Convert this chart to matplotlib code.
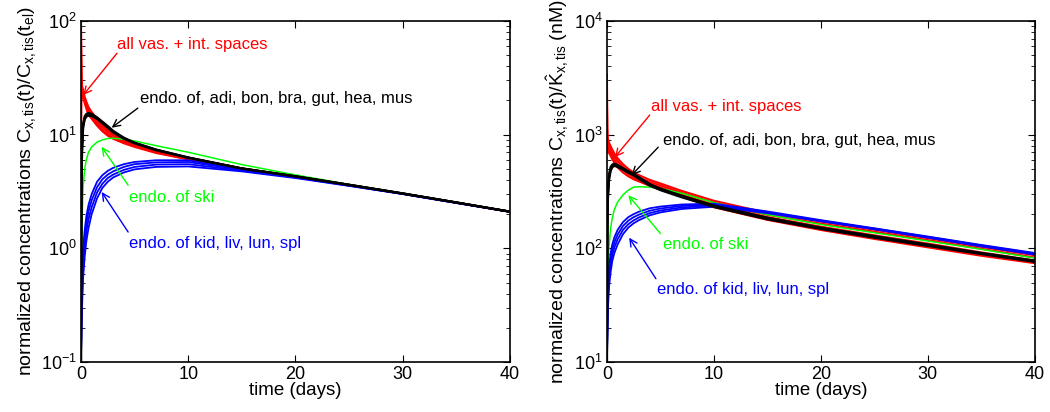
import numpy as np
import matplotlib
matplotlib.use("Agg")
import matplotlib.pyplot as plt

plt.rcParams['font.family'] = ['Liberation Sans', 'DejaVu Sans']
plt.rcParams['mathtext.fontset'] = 'custom'
plt.rcParams['mathtext.rm'] = 'Liberation Sans'
plt.rcParams['mathtext.it'] = 'Liberation Sans:italic'
plt.rcParams['font.size'] = 12

# time grid (days)
t = [0, 0.05, 0.1, 0.2, 0.35, 0.5, 0.7, 1, 1.5, 2, 2.5, 3, 4, 5, 7, 10, 15, 20, 25, 30, 35, 40]

# ---- left panel: C(t)/C(t_el) ----
L_red = [
    [100, 32, 27, 24.5, 21.5, 19.5, 17.5, 15.8, 13.8, 12.2, 11.0, 10.2, 9.1, 8.3, 7.2, 6.25, 5.05, 4.3, 3.62, 3.03, 2.53, 2.1],
    [90, 30, 25.5, 23, 20.5, 18.5, 16.5, 15.0, 13.0, 11.6, 10.5, 9.8, 8.8, 8.1, 7.1, 6.15, 5.0, 4.28, 3.6, 3.03, 2.52, 2.1],
    [60, 28, 24, 22, 19.5, 17.5, 15.5, 14.2, 12.4, 11.0, 10.0, 9.4, 8.6, 7.9, 7.0, 6.1, 4.98, 4.27, 3.59, 3.02, 2.52, 2.1],
    [6, 22, 23, 21.5, 19.0, 17.0, 15.0, 13.8, 12.0, 10.7, 9.8, 9.2, 8.4, 7.8, 6.9, 6.05, 4.95, 4.26, 3.58, 3.02, 2.52, 2.1],
]
L_black = [
    [0.1, 4, 8, 12.5, 14.5, 15.2, 15.5, 15.2, 14.2, 13.0, 11.9, 10.8, 9.4, 8.5, 7.4, 6.3, 5.05, 4.3, 3.62, 3.04, 2.53, 2.1],
    [0.1, 3.5, 7.5, 12.0, 14.0, 14.8, 15.1, 14.9, 14.0, 12.8, 11.7, 10.6, 9.3, 8.45, 7.35, 6.28, 5.04, 4.3, 3.62, 3.04, 2.53, 2.1],
    [0.1, 3, 7, 11.5, 13.6, 14.4, 14.7, 14.6, 13.8, 12.6, 11.5, 10.5, 9.2, 8.4, 7.3, 6.25, 5.03, 4.29, 3.61, 3.03, 2.53, 2.1],
]
L_green = [0.1, 1.0, 1.7, 3.5, 5.0, 6.0, 7.0, 7.8, 8.6, 9.0, 9.25, 9.3, 9.1, 8.8, 8.0, 7.0, 5.45, 4.42, 3.65, 3.05, 2.54, 2.11]
L_blue = [
    [0.1, 0.35, 0.55, 1.0, 1.45, 1.9, 2.4, 3.0, 3.85, 4.4, 4.8, 5.1, 5.5, 5.75, 5.95, 5.95, 4.95, 4.26, 3.59, 3.02, 2.52, 2.1],
    [0.1, 0.3, 0.47, 0.85, 1.25, 1.65, 2.1, 2.65, 3.45, 4.05, 4.45, 4.75, 5.2, 5.5, 5.7, 5.75, 4.9, 4.24, 3.58, 3.02, 2.52, 2.1],
    [0.1, 0.25, 0.38, 0.7, 1.05, 1.4, 1.8, 2.3, 3.1, 3.7, 4.15, 4.45, 4.9, 5.2, 5.45, 5.5, 4.82, 4.2, 3.56, 3.01, 2.51, 2.1],
    [0.1, 0.2, 0.3, 0.55, 0.85, 1.15, 1.5, 2.0, 2.75, 3.4, 3.85, 4.2, 4.65, 4.95, 5.2, 5.25, 4.75, 4.15, 3.54, 3.0, 2.5, 2.09],
]

# ---- right panel: C(t)/K_hat (nM) ----
R_red = [
    [3400, 1000, 920, 850, 790, 740, 680, 620, 550, 500, 465, 440, 400, 372, 320, 262, 205, 172, 146, 123, 103, 87],
    [2000, 900, 850, 790, 740, 690, 640, 585, 520, 475, 445, 420, 383, 358, 308, 252, 197, 165, 140, 118, 99, 83],
    [1200, 820, 780, 730, 690, 650, 600, 550, 490, 450, 422, 400, 368, 344, 296, 241, 188, 155, 130, 110, 92, 78],
    [700, 760, 730, 690, 650, 610, 565, 515, 465, 430, 405, 388, 355, 332, 284, 230, 178, 145, 121, 102, 86, 74],
]
R_black = [
    [10, 200, 330, 450, 520, 545, 555, 540, 508, 478, 452, 422, 368, 335, 290, 238, 186, 152, 128, 108, 91, 78],
    [10, 170, 300, 420, 500, 530, 545, 530, 500, 470, 445, 415, 362, 330, 285, 235, 183, 150, 126, 106, 90, 77],
    [10, 150, 280, 400, 480, 515, 532, 520, 492, 462, 438, 408, 356, 325, 281, 231, 180, 148, 124, 105, 89, 76],
]
R_green = [10, 50, 70, 105, 150, 185, 220, 255, 295, 325, 345, 348, 345, 336, 305, 252, 198, 162, 137, 116, 98, 82]
R_blue = [
    [10, 30, 45, 68, 90, 108, 125, 145, 170, 188, 200, 210, 225, 233, 243, 247, 211, 177, 150, 127, 107, 91],
    [10, 26, 40, 60, 80, 97, 113, 132, 157, 175, 188, 198, 214, 224, 236, 242, 208, 175, 149, 126, 106, 90],
    [10, 22, 35, 53, 71, 87, 102, 120, 145, 163, 176, 187, 204, 215, 229, 237, 206, 174, 148, 125, 105, 89],
    [10, 18, 30, 46, 62, 77, 91, 108, 133, 152, 166, 177, 195, 207, 222, 232, 204, 173, 147, 124, 104, 88],
]

ylabel_left = r'normalized concentrations C$_{\mathrm{x,tis}}$(t)/C$_{\mathrm{x,tis}}$(t$_{\mathrm{el}}$)'
ylabel_right = r'normalized concentrations C$_{\mathrm{x,tis}}$(t)/$\hat{\mathrm{K}}_{\mathrm{x,tis}}$ (nM)'

# annotation texts: (label, colour, text pos, arrow tail, arrow tip)
GREEN = (0, 1, 0)
notes_left = [
    ('all vas. + int. spaces', 'r', (3.36, 62.7), (3.36, 52), (0.22, 22.3)),
    ('endo. of, adi, bon, bra, gut, hea, mus', 'k', (5.5, 21), (5.3, 17.1), (2.86, 11.5)),
    ('endo. of ski', GREEN, (4.5, 2.81), (4.4, 3.59), (1.93, 7.8)),
    ('endo. of kid, liv, lun, spl', 'b', (4.5, 1.106), (4.4, 1.39), (1.93, 3.13)),
]
notes_right = [
    ('all vas. + int. spaces', 'r', (4.1, 1780), (4.0, 1486), (0.75, 634)),
    ('endo. of, adi, bon, bra, gut, hea, mus', 'k', (5.2, 890), (4.8, 776), (2.31, 440)),
    ('endo. of ski', GREEN, (5.2, 108), (5.0, 135), (2.0, 293)),
    ('endo. of kid, liv, lun, spl', 'b', (4.7, 43.3), (4.58, 54), (2.08, 124)),
]

fig = plt.figure(figsize=(10.5, 4.12), dpi=100)
axL = fig.add_axes([0.0771, 0.1214, 0.4086, 0.8277])
axR = fig.add_axes([0.578, 0.1214, 0.4076, 0.8277])


def draw(ax, red, black, green, blue):
    for c in red:
        ax.plot(t, c, color='r', lw=1.5)
    ax.plot(t, green, color=GREEN, lw=1.1)
    for c in blue:
        ax.plot(t, c, color='b', lw=1.3)
    for c in black:
        ax.plot(t, c, color='k', lw=1.6)


def notes(ax, items):
    for txt, col, pos, tail, tip in items:
        ax.text(pos[0], pos[1], txt, color=col, fontsize=12, va='center', ha='left')
        ax.annotate('', xy=tip, xytext=tail,
                    arrowprops=dict(arrowstyle='->', color=col, lw=1.0, mutation_scale=13,
                                    shrinkA=0, shrinkB=0))


draw(axL, L_red, L_black, L_green, L_blue)
draw(axR, R_red, R_black, R_green, R_blue)
notes(axL, notes_left)
notes(axR, notes_right)

for ax in (axL, axR):
    ax.set_yscale('log')
    ax.set_xlim(0, 40)
    ax.set_xticks([0, 10, 20, 30, 40])
    ax.tick_params(which='both', direction='in', top=True, right=True, labelsize=13)
    ax.tick_params(which='major', length=5, width=0.8, pad=3)
    ax.tick_params(which='minor', length=3, width=0.6)
    for s in ax.spines.values():
        s.set_linewidth(1.2)
    ax.set_xlabel('time (days)', fontsize=13.5, labelpad=-1)

axL.set_ylim(0.1, 100)
axR.set_ylim(10, 10000)
axL.set_ylabel(ylabel_left, fontsize=14, labelpad=2)
axR.set_ylabel(ylabel_right, fontsize=14, labelpad=2)

fig.savefig('out.png', dpi=100)
